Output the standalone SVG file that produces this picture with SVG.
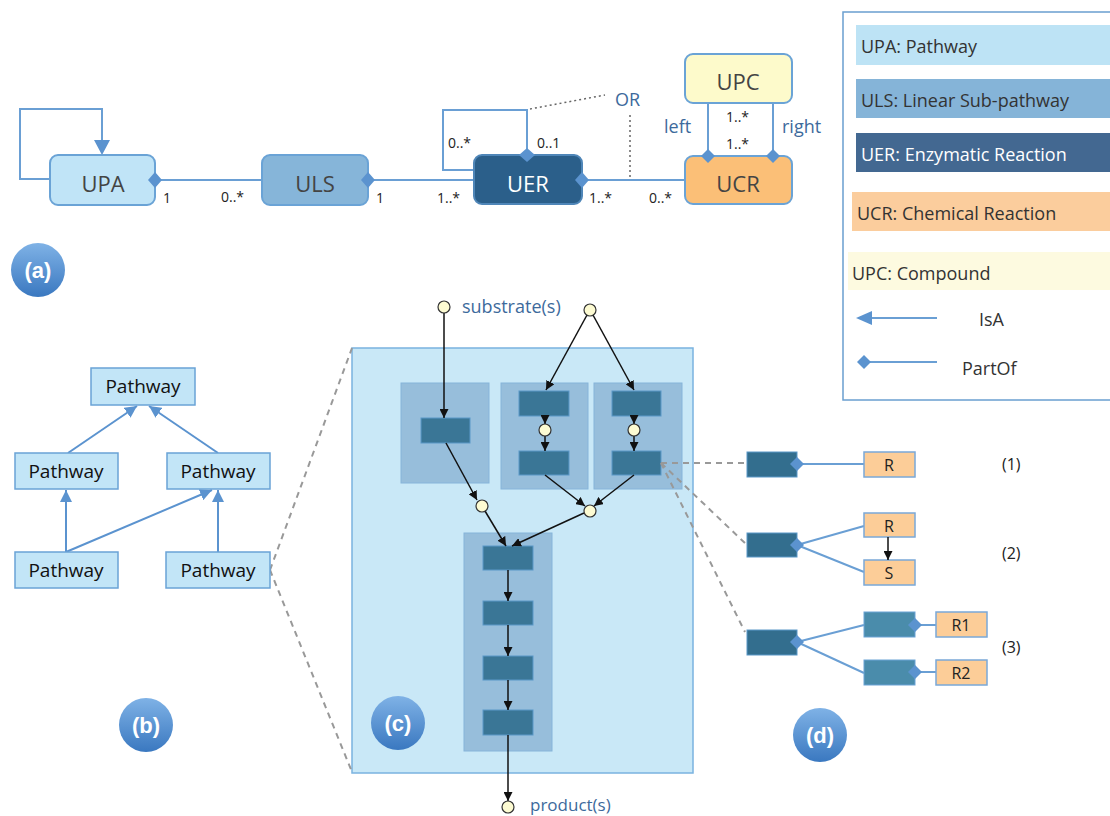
<svg xmlns="http://www.w3.org/2000/svg" width="1110" height="816" viewBox="0 0 1110 816">
<defs>
<linearGradient id="lbl" x1="0" y1="0" x2="0" y2="1">
<stop offset="0" stop-color="#7fb2e6"/><stop offset="1" stop-color="#3a78c0"/>
</linearGradient>
<marker id="tri" viewBox="0 0 10 10" refX="10" refY="5" markerWidth="12" markerHeight="12" markerUnits="userSpaceOnUse" orient="auto">
<path d="M0,0 L10,5 L0,10 z" fill="#5b93cf"/>
</marker>
<marker id="blk" viewBox="0 0 10 10" refX="10" refY="5" markerWidth="9" markerHeight="9" markerUnits="userSpaceOnUse" orient="auto">
<path d="M0,0 L10,5 L0,10 z" fill="#111"/>
</marker>
</defs>
<style>
text{font-family:"Open Sans","DejaVu Sans",sans-serif}
.uml{font-size:22px;text-anchor:middle}
.mult{font-size:14px;fill:#222}
.blue{fill:#3d6a9c}
.ln{stroke:#6a9fd4;stroke-width:2;fill:none}
.dot{stroke:#666;stroke-width:1.5;stroke-dasharray:2,3;fill:none}
.dash{stroke:#999;stroke-width:2;stroke-dasharray:6,5;fill:none}
.dia{fill:#5b93cf}
.pw{fill:#c2e5f7;stroke:#6aa3d6;stroke-width:1.5}
.pwt{font-size:19px;text-anchor:middle;fill:#111}
.grp{fill:#97bedb;stroke:#86b4da;stroke-width:1}
.rx{fill:#3a7696;stroke:#5a98c8;stroke-width:1}
.rxd{fill:#336e8e;stroke:#5a98c8;stroke-width:1}
.rxm{fill:#4a8cab;stroke:#6aa3d6;stroke-width:1}
.cmp{fill:#fdfbd2;stroke:#333;stroke-width:1.2}
.ar{stroke:#111;stroke-width:1.5;fill:none;marker-end:url(#blk)}
.isa{stroke:#5b93cf;stroke-width:2;fill:none;marker-end:url(#tri)}
.cr{fill:#fccd98;stroke:#7aa8d8;stroke-width:1.5}
.crt{font-size:16px;text-anchor:middle;fill:#222}
.leg{font-size:18px}
.num{font-size:16px;fill:#222}
.lc{fill:url(#lbl)}
.lt{font-family:"Liberation Sans",Arial,sans-serif;font-weight:bold;font-size:22px;fill:#fff;text-anchor:middle}
</style>

<!-- (c) background panel -->
<g id="panel-c">
<rect x="352" y="348" width="341" height="425" fill="#c9e8f7" stroke="#7ab3e0" stroke-width="1.5"/>
<rect class="grp" x="401" y="383" width="88" height="100"/>
<rect class="grp" x="501" y="383" width="87" height="106"/>
<rect class="grp" x="594" y="383" width="88" height="106"/>
<rect class="grp" x="464" y="533" width="88" height="218"/>
<rect class="rx" x="421" y="418" width="49" height="25"/>
<rect class="rx" x="519" y="391" width="50" height="25"/>
<rect class="rx" x="519" y="451" width="50" height="24"/>
<rect class="rx" x="612" y="391" width="49" height="25"/>
<rect class="rx" x="612" y="451" width="49" height="24"/>
<rect class="rx" x="483" y="546" width="50" height="24"/>
<rect class="rx" x="483" y="601" width="50" height="24"/>
<rect class="rx" x="483" y="656" width="50" height="24"/>
<rect class="rx" x="483" y="710" width="50" height="25"/>
</g>

<!-- connectors -->
<g id="connectors">
<!-- (a) -->
<path class="ln" d="M50,179 H20 V109 H102 V140"/>
<path d="M94,140 L110,140 L102,155 z" fill="#5b93cf"/>
<line class="ln" x1="155" y1="180" x2="262" y2="180"/>
<line class="ln" x1="368" y1="180" x2="474" y2="180"/>
<path class="ln" d="M474,170 H443 V110 H527 V155"/>
<line class="ln" x1="582" y1="180" x2="685" y2="180"/>
<line class="ln" x1="708" y1="103" x2="708" y2="156"/>
<line class="ln" x1="773" y1="103" x2="773" y2="156"/>
<line class="dot" x1="530" y1="109" x2="605" y2="95"/>
<line class="dot" x1="630" y1="115" x2="630" y2="178"/>
<!-- (b) -->
<line class="isa" x1="68" y1="453" x2="137" y2="406"/>
<line class="isa" x1="218" y1="453" x2="149" y2="406"/>
<line class="isa" x1="66" y1="552" x2="66" y2="490"/>
<line class="isa" x1="66" y1="552" x2="212" y2="490"/>
<line class="isa" x1="218" y1="552" x2="218" y2="490"/>
<!-- zoom dashes -->
<line class="dash" x1="270" y1="570" x2="352" y2="348"/>
<line class="dash" x1="270" y1="570" x2="352" y2="772"/>
<line class="dash" x1="661" y1="463" x2="747" y2="463"/>
<line class="dash" x1="661" y1="463" x2="747" y2="545"/>
<line class="dash" x1="661" y1="463" x2="745" y2="632"/>
<!-- (d) -->
<line class="ln" x1="797" y1="464" x2="864" y2="464"/>
<line class="ln" x1="797" y1="545" x2="864" y2="526"/>
<line class="ln" x1="797" y1="545" x2="864" y2="572"/>
<line class="ln" x1="797" y1="642" x2="864" y2="625"/>
<line class="ln" x1="797" y1="642" x2="864" y2="673"/>
<line class="ln" x1="915" y1="625" x2="936" y2="625"/>
<line class="ln" x1="915" y1="672" x2="936" y2="672"/>
<!-- (c) flow -->
<line class="ar" x1="444" y1="313" x2="444" y2="418"/>
<line class="ar" x1="587" y1="315" x2="546" y2="390"/>
<line class="ar" x1="593" y1="315" x2="634" y2="390"/>
<line class="ar" x1="545" y1="416" x2="545" y2="424"/>
<line class="ar" x1="545" y1="436" x2="545" y2="451"/>
<line class="ar" x1="634" y1="416" x2="634" y2="424"/>
<line class="ar" x1="634" y1="436" x2="634" y2="451"/>
<line class="ar" x1="446" y1="443" x2="477" y2="500"/>
<line class="ar" x1="545" y1="475" x2="585" y2="506"/>
<line class="ar" x1="634" y1="475" x2="594" y2="506"/>
<line class="ar" x1="485" y1="511" x2="506" y2="546"/>
<line class="ar" x1="584" y1="513" x2="512" y2="546"/>
<line class="ar" x1="508" y1="570" x2="508" y2="601"/>
<line class="ar" x1="508" y1="625" x2="508" y2="656"/>
<line class="ar" x1="508" y1="680" x2="508" y2="710"/>
<line class="ar" x1="508" y1="735" x2="508" y2="801"/>
</g>

<!-- (a) UML nodes -->
<g id="UPA"><rect x="50" y="155" width="105" height="50" rx="8" fill="#c0e4f7" stroke="#6aa3d6" stroke-width="2"/><text class="uml" x="103" y="192" fill="#444">UPA</text><path class="dia" d="M148,180 L155,172 L162,180 L155,188 z"/></g>
<g id="ULS"><rect x="262" y="155" width="106" height="50" rx="8" fill="#86b5d9" stroke="#6aa3d6" stroke-width="2"/><text class="uml" x="315" y="192" fill="#444">ULS</text><path class="dia" d="M361,180 L368,172 L375,180 L368,188 z"/></g>
<g id="UER"><rect x="474" y="155" width="108" height="49" rx="8" fill="#2b5f8a" stroke="#4f86b8" stroke-width="2"/><text class="uml" x="528" y="192" fill="#fff">UER</text><path class="dia" d="M575,180 L582,172 L589,180 L582,188 z"/><path class="dia" d="M527,148 L535,155 L527,162 L519,155 z"/></g>
<g id="UCR"><rect x="685" y="156" width="107" height="48" rx="8" fill="#fbbf77" stroke="#6aa3d6" stroke-width="2"/><text class="uml" x="738" y="192" fill="#444">UCR</text><path class="dia" d="M708,149 L715,156 L708,163 L701,156 z"/><path class="dia" d="M773,149 L780,156 L773,163 L766,156 z"/></g>
<g id="UPC"><rect x="685" y="54" width="107" height="49" rx="8" fill="#fdfacb" stroke="#6aa3d6" stroke-width="2"/><text class="uml" x="738" y="90" fill="#444">UPC</text></g>
<g id="labels-a">
<text class="mult" x="163" y="203">1</text>
<text class="mult" x="221" y="202">0..*</text>
<text class="mult" x="376" y="203">1</text>
<text class="mult" x="437" y="203">1..*</text>
<text class="mult" x="448" y="148">0..*</text>
<text class="mult" x="537" y="148">0..1</text>
<text class="mult" x="589" y="203">1..*</text>
<text class="mult" x="649" y="203">0..*</text>
<text class="mult" x="726" y="122">1..*</text>
<text class="mult" x="726" y="149">1..*</text>
<text class="blue" x="664" y="133" font-size="18">left</text>
<text class="blue" x="782" y="133" font-size="18">right</text>
<text class="blue" x="615" y="106" font-size="18">OR</text>
</g>

<!-- legend -->
<g id="legend">
<rect x="843" y="12" width="280" height="388" fill="#fff" stroke="#6a9fd0" stroke-width="1.5"/>
<rect x="856" y="25" width="254" height="40" fill="#bde3f5"/>
<text class="leg" x="861" y="53" fill="#333">UPA: Pathway</text>
<rect x="856" y="79" width="254" height="39" fill="#85b4d8"/>
<text class="leg" x="861" y="107" fill="#333">ULS: Linear Sub-pathway</text>
<rect x="856" y="133" width="254" height="39" fill="#436891"/>
<text class="leg" x="861" y="161" fill="#fff">UER: Enzymatic Reaction</text>
<rect x="852" y="192" width="258" height="39" fill="#fbcd9d"/>
<text class="leg" x="857" y="220" fill="#333">UCR: Chemical Reaction</text>
<rect x="848" y="252" width="262" height="38" fill="#fdfae0"/>
<text class="leg" x="852" y="280" fill="#333">UPC: Compound</text>
<line class="ln" x1="937" y1="318" x2="870" y2="318"/>
<path d="M856,318 L872,311 L872,325 z" fill="#5b93cf"/>
<text class="leg" x="979" y="326" fill="#333">IsA</text>
<line class="ln" x1="864" y1="362" x2="937" y2="362"/>
<path class="dia" d="M857,362 L864,355 L871,362 L864,369 z"/>
<text class="leg" x="962" y="375" fill="#333">PartOf</text>
</g>

<!-- (b) -->
<g id="pw-top"><rect class="pw" x="91" y="368" width="104" height="37"/><text class="pwt" x="143" y="393">Pathway</text></g>
<g id="pw-ml"><rect class="pw" x="15" y="453" width="103" height="36"/><text class="pwt" x="66" y="478">Pathway</text></g>
<g id="pw-mr"><rect class="pw" x="167" y="453" width="103" height="36"/><text class="pwt" x="218" y="478">Pathway</text></g>
<g id="pw-bl"><rect class="pw" x="15" y="552" width="103" height="36"/><text class="pwt" x="66" y="577">Pathway</text></g>
<g id="pw-br"><rect class="pw" x="166" y="552" width="104" height="36"/><text class="pwt" x="218" y="577">Pathway</text></g>

<!-- (c) compounds -->
<g id="compounds">
<circle class="cmp" cx="444" cy="307" r="6"/>
<circle class="cmp" cx="590" cy="310" r="6"/>
<circle class="cmp" cx="545" cy="430" r="6"/>
<circle class="cmp" cx="634" cy="430" r="6"/>
<circle class="cmp" cx="482" cy="506" r="6"/>
<circle class="cmp" cx="590" cy="511" r="6"/>
<circle class="cmp" cx="508" cy="807" r="6"/>
<text class="blue" x="462" y="313" font-size="18">substrate(s)</text>
<text class="blue" x="530" y="811" font-size="17">product(s)</text>
</g>

<!-- (d) -->
<g id="d-row1">
<rect class="rxd" x="747" y="452" width="50" height="25"/>
<path class="dia" d="M790,464 L797,457 L804,464 L797,471 z"/>
<rect class="cr" x="864" y="452" width="51" height="25"/><text class="crt" x="889" y="471">R</text>
<text class="num" x="1002" y="470">(1)</text>
</g>
<g id="d-row2">
<rect class="rxd" x="747" y="533" width="50" height="24"/>
<path class="dia" d="M790,545 L797,538 L804,545 L797,552 z"/>
<rect class="cr" x="864" y="513" width="51" height="24"/><text class="crt" x="889" y="532">R</text>
<rect class="cr" x="864" y="560" width="51" height="25"/><text class="crt" x="889" y="579">S</text>
<line class="ar" x1="888" y1="537" x2="888" y2="560"/>
<text class="num" x="1002" y="559">(2)</text>
</g>
<g id="d-row3">
<rect class="rxd" x="747" y="630" width="50" height="25"/>
<path class="dia" d="M790,642 L797,635 L804,642 L797,649 z"/>
<rect class="rxm" x="864" y="612" width="51" height="25"/>
<path class="dia" d="M908,625 L915,618 L922,625 L915,632 z"/>
<rect class="rxm" x="864" y="660" width="51" height="25"/>
<path class="dia" d="M908,672 L915,665 L922,672 L915,679 z"/>
<rect class="cr" x="936" y="612" width="51" height="25"/><text class="crt" x="961" y="631">R1</text>
<rect class="cr" x="936" y="660" width="51" height="25"/><text class="crt" x="961" y="679">R2</text>
<text class="num" x="1002" y="653">(3)</text>
</g>

<!-- panel labels -->
<g id="label-a"><circle class="lc" cx="38" cy="270" r="27"/><text class="lt" x="38" y="278">(a)</text></g>
<g id="label-b"><circle class="lc" cx="146" cy="725" r="27"/><text class="lt" x="146" y="733">(b)</text></g>
<g id="label-c"><circle class="lc" cx="398" cy="723" r="27"/><text class="lt" x="398" y="731">(c)</text></g>
<g id="label-d"><circle class="lc" cx="820" cy="735" r="27"/><text class="lt" x="820" y="743">(d)</text></g>
</svg>
